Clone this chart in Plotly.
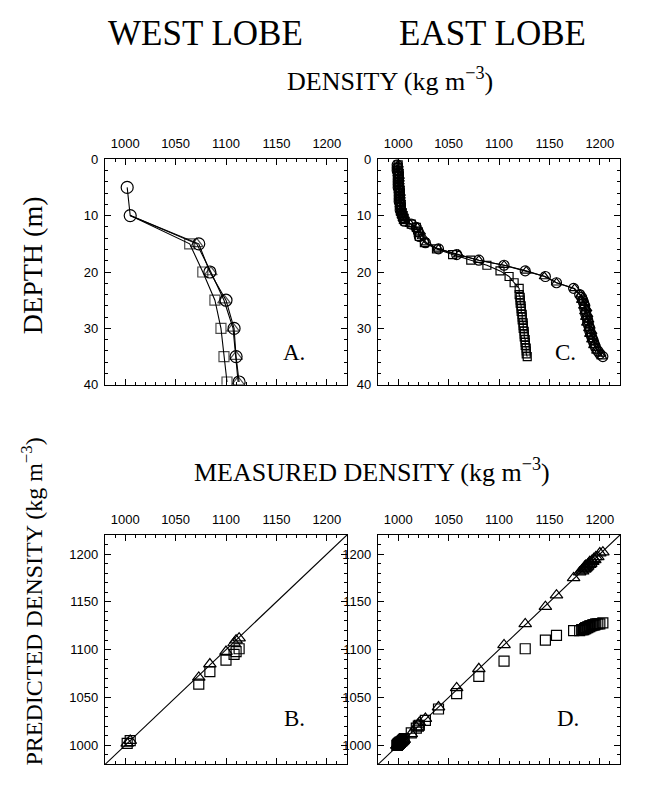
import plotly.graph_objects as go

# ---------------- data ----------------
# West lobe: depth (m), measured density, model (triangles), model (squares)
depth_w = [5, 10, 15, 20, 25, 30, 35, 39.5]
meas_w = [1002, 1005, 1073, 1084, 1100, 1108, 1110, 1113]
tri_w = [1002, 1005, 1071, 1085, 1098, 1107, 1110, 1112]
sq_w = [1002, 1005, 1064, 1077, 1089, 1095, 1098, 1101]

# East lobe
depth_e = [1.0, 1.5, 2.0, 2.5, 3.0, 3.5, 4.0, 4.5, 5.0, 5.5, 6.0, 6.5, 7.0, 7.5,
           8.0, 8.5, 9.0, 9.5, 10.0, 10.5, 11.0,
           11.5, 12.1, 12.9, 13.7, 14.8, 15.9, 16.9, 17.9, 18.8, 19.8, 20.8, 21.9, 22.9,
           24.0, 24.5, 25.0, 25.5, 26.0, 26.5, 27.0, 27.5, 28.0, 28.5, 29.0, 29.5,
           30.0, 30.5, 31.0, 31.5, 32.0, 32.5, 33.0, 33.5, 34.0, 34.5, 35.0]
meas_e = [999, 999, 999, 1000, 1000, 1000, 1000, 1000, 1000, 1001, 1001, 1001, 1001, 1001,
          1002, 1002, 1002, 1003, 1004, 1005, 1006,
          1013, 1018, 1020, 1021, 1027, 1040, 1058, 1080, 1105, 1126, 1146, 1157, 1174,
          1180, 1182, 1183, 1184, 1185, 1185, 1186, 1186, 1187, 1188, 1188, 1189,
          1190, 1190, 1191, 1192, 1193, 1194, 1195, 1196, 1198, 1200, 1203]
tri_e = [1000, 1000, 1000, 1000, 1001, 1001, 1001, 1001, 1001, 1001, 1002, 1002, 1002, 1002,
         1002, 1003, 1003, 1003, 1004, 1005, 1006,
         1012, 1019, 1022, 1024, 1028, 1040, 1060, 1080, 1105, 1127, 1145, 1157, 1175,
         1181, 1183, 1182, 1185, 1184, 1187, 1185, 1188, 1186, 1189, 1187, 1190,
         1189, 1192, 1190, 1193, 1192, 1195, 1194, 1197, 1197, 1201, 1202]
sq_e = [1000, 1000, 1000, 1001, 1001, 1001, 1001, 1001, 1001, 1002, 1002, 1002, 1002, 1002,
        1003, 1003, 1003, 1004, 1005, 1006, 1007,
        1013, 1018, 1020, 1021, 1026, 1038, 1054, 1072, 1088, 1101, 1110, 1115, 1120,
        1120, 1121, 1121, 1121, 1122, 1122, 1122, 1123, 1123, 1123, 1124, 1124,
        1124, 1125, 1125, 1125, 1126, 1126, 1126, 1127, 1127, 1127, 1128]

density_ticks = [1000, 1050, 1100, 1150, 1200]
depth_ticks = [0, 10, 20, 30, 40]
density_range = [980, 1220]
depth_range = [40, 0]
one_to_one = [980, 1220]

# ---------------- layout geometry ----------------
W, H = 646, 788
def xd(a, b):
    return [a / W, b / W]
def yd(top, bottom):
    return [1 - bottom / H, 1 - top / H]

LEFT = (97, 339)
RIGHT = (370, 612)
TOP = (147, 377)
BOT = (530, 764)

tickfont = dict(family="Liberation Sans, Arial, sans-serif", size=13, color="black")
serif = "Liberation Serif, Times New Roman, serif"

def xaxis(dom, anchor):
    return dict(domain=xd(*dom), anchor=anchor, range=density_range, side="top",
                tickvals=density_ticks, ticktext=[str(v) for v in density_ticks],
                ticks="inside", ticklen=6, tickwidth=1, tickcolor="black",
                minor=dict(ticks="inside", ticklen=3, dtick=10, tick0=1000,
                           tickwidth=1, tickcolor="black", showgrid=False),
                showline=True, linecolor="black", linewidth=1.3, mirror="ticks",
                showgrid=False, zeroline=False, tickfont=tickfont, ticklabelstandoff=5)

def yaxis(dom, anchor, depth):
    if depth:
        rng, tv, mdt, mt0 = depth_range, depth_ticks, 2, 0
    else:
        rng, tv, mdt, mt0 = density_range, density_ticks, 10, 1000
    return dict(domain=yd(*dom), anchor=anchor, range=rng,
                tickvals=tv, ticktext=[str(v) for v in tv],
                ticks="inside", ticklen=6, tickwidth=1, tickcolor="black",
                minor=dict(ticks="inside", ticklen=3, dtick=mdt, tick0=mt0,
                           tickwidth=1, tickcolor="black", showgrid=False),
                showline=True, linecolor="black", linewidth=1.3, mirror="ticks",
                showgrid=False, zeroline=False, tickfont=tickfont, ticklabelstandoff=3)

fig = go.Figure()

LW = 1.1
def mk(symbol, size):
    return dict(symbol=symbol, size=size, color="black", line=dict(width=1.2, color="black"))

# ---- Panel A ----
hide = lambda d, s: [0 if v < 15 else s for v in d]
fig.add_trace(go.Scatter(x=sq_w[1:], y=depth_w[1:], mode="lines+markers",
                         line=dict(color="black", width=LW),
                         marker=dict(symbol="square-open", size=hide(depth_w[1:], 10), color="black",
                                     line=dict(width=1.2)), xaxis="x", yaxis="y"))
fig.add_trace(go.Scatter(x=tri_w[1:], y=depth_w[1:], mode="lines+markers",
                         line=dict(color="black", width=LW),
                         marker=dict(symbol="triangle-up-open", size=hide(depth_w[1:], 11), color="black",
                                     line=dict(width=1.2)), xaxis="x", yaxis="y"))
fig.add_trace(go.Scatter(x=meas_w, y=depth_w, mode="lines+markers",
                         line=dict(color="black", width=LW),
                         marker=mk("circle-open", 12), xaxis="x", yaxis="y"))

# ---- Panel C ----
fig.add_trace(go.Scatter(x=sq_e, y=depth_e, mode="lines+markers",
                         line=dict(color="black", width=LW),
                         marker=mk("square-open", 8), xaxis="x2", yaxis="y2"))
fig.add_trace(go.Scatter(x=tri_e, y=depth_e, mode="lines+markers",
                         line=dict(color="black", width=LW),
                         marker=mk("triangle-up-open", 9), xaxis="x2", yaxis="y2"))
fig.add_trace(go.Scatter(x=meas_e, y=depth_e, mode="lines+markers",
                         line=dict(color="black", width=LW),
                         marker=mk("circle-open", 10), xaxis="x2", yaxis="y2"))

# ---- Panel B ----
fig.add_trace(go.Scatter(x=one_to_one, y=one_to_one, mode="lines",
                         line=dict(color="black", width=1.1), xaxis="x3", yaxis="y3"))
fig.add_trace(go.Scatter(x=meas_w, y=sq_w, mode="markers",
                         marker=mk("square-open", 10), xaxis="x3", yaxis="y3"))
fig.add_trace(go.Scatter(x=meas_w, y=tri_w, mode="markers",
                         marker=mk("triangle-up-open", 11), xaxis="x3", yaxis="y3"))

# ---- Panel D ----
fig.add_trace(go.Scatter(x=one_to_one, y=one_to_one, mode="lines",
                         line=dict(color="black", width=1.1), xaxis="x4", yaxis="y4"))
fig.add_trace(go.Scatter(x=meas_e, y=sq_e, mode="markers",
                         marker=mk("square-open", 10), xaxis="x4", yaxis="y4"))
fig.add_trace(go.Scatter(x=meas_e, y=tri_e, mode="markers",
                         marker=mk("triangle-up-open", 11), xaxis="x4", yaxis="y4"))

def ann(text, x, y, size, rot=0):
    return dict(text=text, x=x / W, y=1 - y / H, xref="paper", yref="paper",
                showarrow=False, xanchor="center", yanchor="middle", textangle=rot,
                font=dict(family=serif, size=size, color="black"))

annotations = [
    ann("WEST LOBE", 197, 19, 35),
    ann("EAST LOBE", 484, 19, 35),
    ann("DENSITY (kg m<sup>−3</sup>)", 382, 66, 26),
    ann("MEASURED DENSITY (kg m<sup>−3</sup>)", 364, 464, 26),
    ann("DEPTH (m)", 24, 255, 28, -90),
    ann("PREDICTED DENSITY (kg m<sup>−3</sup>)", 24, 598, 24, -90),
    ann("A.", 286, 344, 23),
    ann("C.", 557, 344, 23),
    ann("B.", 286, 717, 23),
    ann("D.", 560, 717, 23),
]

fig.update_layout(
    width=W, height=H, margin=dict(l=0, r=0, t=0, b=0),
    paper_bgcolor="white", plot_bgcolor="white", showlegend=False,
    xaxis=xaxis(LEFT, "y"), yaxis=yaxis(TOP, "x", True),
    xaxis2=xaxis(RIGHT, "y2"), yaxis2=yaxis(TOP, "x2", True),
    xaxis3=xaxis(LEFT, "y3"), yaxis3=yaxis(BOT, "x3", False),
    xaxis4=xaxis(RIGHT, "y4"), yaxis4=yaxis(BOT, "x4", False),
    annotations=annotations,
)

fig.write_html("out.html")
